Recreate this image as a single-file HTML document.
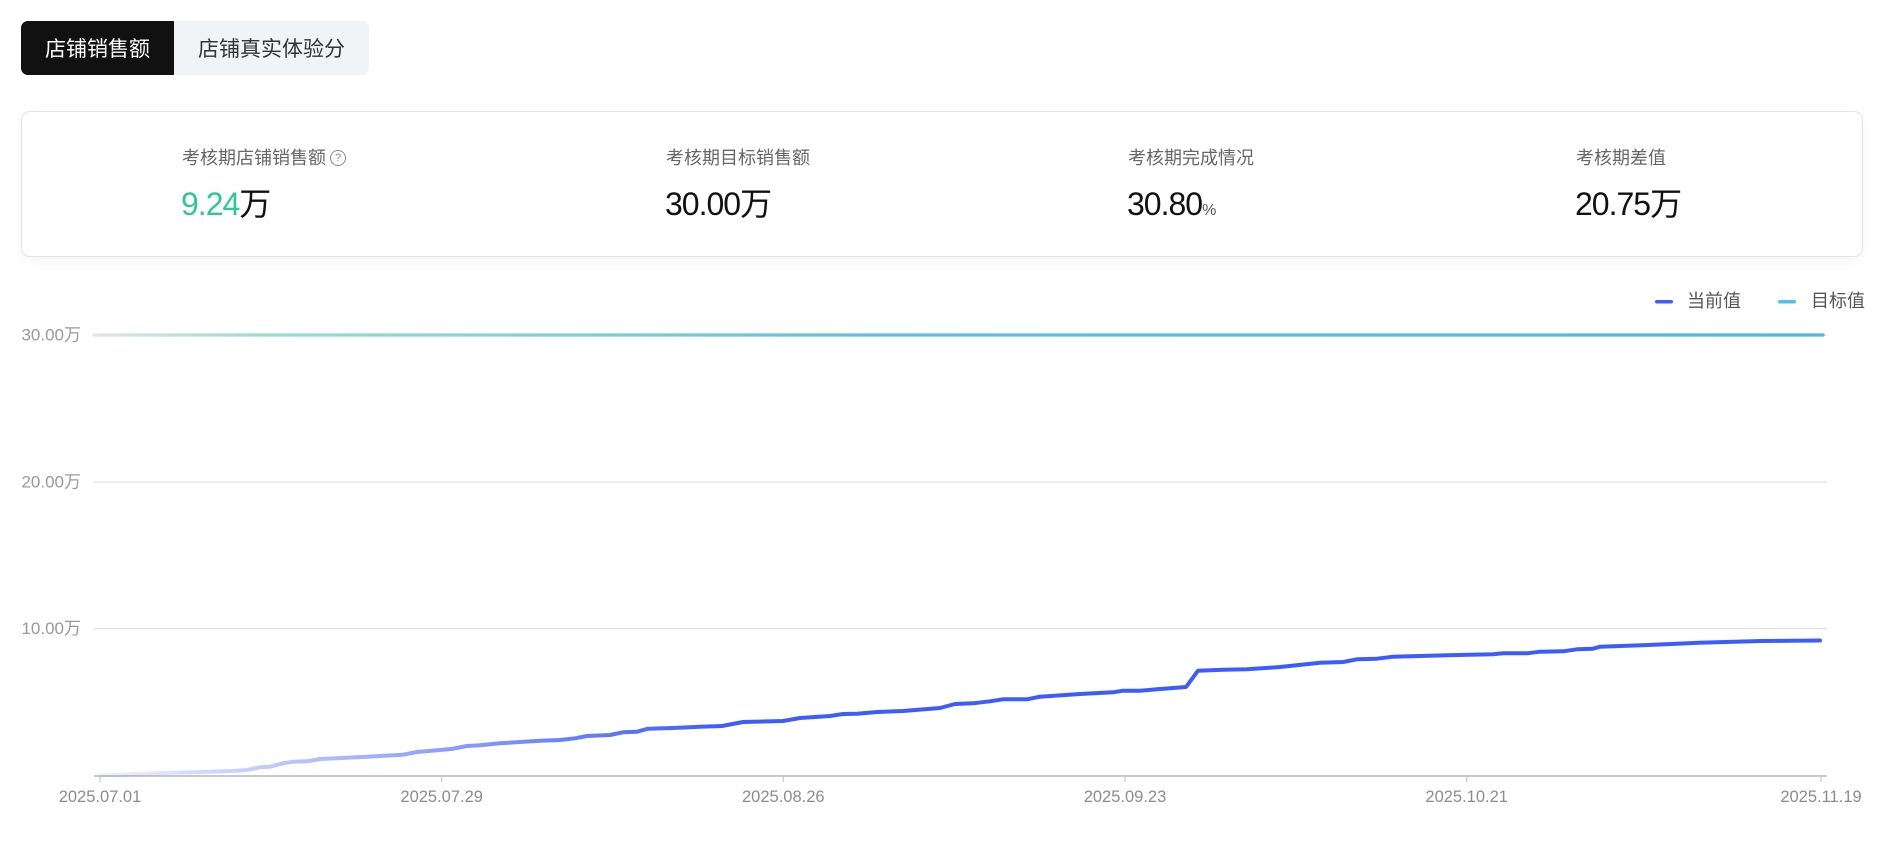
<!DOCTYPE html>
<html>
<head>
<meta charset="utf-8">
<style>
  html,body{margin:0;padding:0;background:#fff;}
  body{width:1884px;height:864px;position:relative;overflow:hidden;font-family:"Liberation Sans","Noto Sans CJK SC",sans-serif;}
  .tab{position:absolute;top:21px;height:54px;line-height:58px;text-align:center;font-size:21px;box-sizing:border-box;}
  .tab1{left:21px;width:153px;background:#111;color:#fff;border-radius:7px 0 0 7px;}
  .tab2{left:174px;width:195px;background:#f2f3f7;color:#333;border-radius:0 7px 7px 0;}
  .card{position:absolute;left:21px;top:111px;width:1840px;height:144px;border:1px solid #e2e3e8;border-radius:9px;box-shadow:0 5px 12px rgba(0,0,0,0.035);background:#fff;}
  .lab{position:absolute;top:146px;font-size:18px;line-height:24px;color:#666;white-space:nowrap;}
  .val{position:absolute;top:184px;font-size:32px;line-height:40px;color:#111;white-space:nowrap;}
  .num{letter-spacing:-1px;}
  .q{display:inline-block;width:14px;height:14px;border:1.3px solid #888;border-radius:50%;font-size:11px;line-height:14px;text-align:center;color:#888;vertical-align:3px;margin-left:4px;}
</style>
</head>
<body>
<div class="tab tab1">店铺销售额</div>
<div class="tab tab2">店铺真实体验分</div>

<div class="card"></div>
<div class="lab" style="left:182px;">考核期店铺销售额<span class="q">?</span></div>
<div class="val" style="left:181px;"><span class="num" style="color:#2ec98f;">9.24</span>万</div>

<div class="lab" style="left:666px;">考核期目标销售额</div>
<div class="val" style="left:665px;"><span class="num">30.00</span>万</div>

<div class="lab" style="left:1128px;">考核期完成情况</div>
<div class="val" style="left:1127px;"><span class="num">30.80</span><span style="font-size:16px;color:#555;">%</span></div>

<div class="lab" style="left:1576px;">考核期差值</div>
<div class="val" style="left:1575px;"><span class="num">20.75</span>万</div>

<svg width="1884" height="864" style="position:absolute;left:0;top:0;" xmlns="http://www.w3.org/2000/svg">
  <defs>
    <linearGradient id="gc" gradientUnits="userSpaceOnUse" x1="100" y1="0" x2="1820" y2="0">
      <stop offset="0" stop-color="#3d5cff" stop-opacity="0.08"/>
      <stop offset="0.36" stop-color="#3d5cff" stop-opacity="1"/>
      <stop offset="1" stop-color="#3d5cff" stop-opacity="1"/>
    </linearGradient>
    <linearGradient id="gt" gradientUnits="userSpaceOnUse" x1="94" y1="0" x2="1823" y2="0">
      <stop offset="0" stop-color="#dfe5e3"/>
      <stop offset="0.1" stop-color="#98dccf"/>
      <stop offset="0.25" stop-color="#7ed3d6"/>
      <stop offset="0.45" stop-color="#5cc0e6"/>
      <stop offset="1" stop-color="#4db6ef"/>
    </linearGradient>
  </defs>

  <!-- legend -->
  <rect x="1655" y="300" width="18" height="3.5" rx="1.7" fill="#3d5cff"/>
  <text x="1687" y="301" font-size="18" fill="#555" dominant-baseline="central" font-family="Liberation Sans, Noto Sans CJK SC, sans-serif">当前值</text>
  <rect x="1778" y="300" width="18" height="3.5" rx="1.7" fill="#4ec3f0"/>
  <text x="1811" y="301" font-size="18" fill="#555" dominant-baseline="central" font-family="Liberation Sans, Noto Sans CJK SC, sans-serif">目标值</text>

  <!-- grid -->
  <g stroke="#e0e0e0" stroke-width="1.2">
    <line x1="94" y1="335" x2="1827" y2="335"/>
    <line x1="94" y1="482" x2="1827" y2="482"/>
    <line x1="94" y1="628.5" x2="1827" y2="628.5"/>
  </g>
  <line x1="94" y1="776" x2="1827" y2="776" stroke="#c8c8c8" stroke-width="2"/>
  <g stroke="#c8c8c8" stroke-width="1.2">
    <line x1="100" y1="776" x2="100" y2="782"/>
    <line x1="441.7" y1="776" x2="441.7" y2="782"/>
    <line x1="783.3" y1="776" x2="783.3" y2="782"/>
    <line x1="1125" y1="776" x2="1125" y2="782"/>
    <line x1="1466.7" y1="776" x2="1466.7" y2="782"/>
    <line x1="1821" y1="776" x2="1821" y2="782"/>
  </g>

  <!-- y labels -->
  <g font-size="17" fill="#999" text-anchor="end" dominant-baseline="central" font-family="Liberation Sans, Noto Sans CJK SC, sans-serif">
    <text x="81" y="335">30.00万</text>
    <text x="81" y="482">20.00万</text>
    <text x="81" y="628.5">10.00万</text>
  </g>
  <!-- x labels -->
  <g font-size="16.5" fill="#8c8c8c" text-anchor="middle" dominant-baseline="central" font-family="Liberation Sans, sans-serif">
    <text x="100" y="797">2025.07.01</text>
    <text x="441.7" y="797">2025.07.29</text>
    <text x="783.3" y="797">2025.08.26</text>
    <text x="1125" y="797">2025.09.23</text>
    <text x="1466.7" y="797">2025.10.21</text>
    <text x="1821" y="797">2025.11.19</text>
  </g>

  <!-- target line -->
  <line x1="94" y1="335" x2="1823" y2="335" stroke="url(#gt)" stroke-width="3.2" stroke-linecap="round"/>

  <!-- current line -->
  <polyline fill="none" stroke="url(#gc)" stroke-width="4" stroke-linejoin="round" stroke-linecap="round"
    points="100,775.5 133,774 200,772 233,771 247,770 260,767.3 270,766.7 283,763.3 293,761.7 307,761.3 320,759 367,756.7 403,754.7 417,752 443,749.7 453,748.7 467,746 480,745.3 500,743.3 540,740.7 560,740 575,738.3 587,736 610,735 623,732.3 637,731.7 648,728.7 673,728 700,726.7 722,726 743,722 783,721 800,718 830,716 843,714 857,713.7 877,712 903,711 940,708 955,704 973,703.3 990,701.3 1003,699.3 1027,699.3 1040,696.7 1080,694 1113,692.3 1123,690.7 1140,690.7 1157,689.3 1186,687 1198,670.7 1223,669.7 1247,669.3 1280,667 1320,662.7 1343,662 1357,659.3 1377,658.7 1393,656.7 1447,655.3 1493,654.3 1503,653.3 1527,653.3 1540,651.7 1563,651.3 1577,649.3 1593,648.7 1600,646.7 1648,645 1699,642.7 1761,641 1820,640.5"/>
</svg>
</body>
</html>
